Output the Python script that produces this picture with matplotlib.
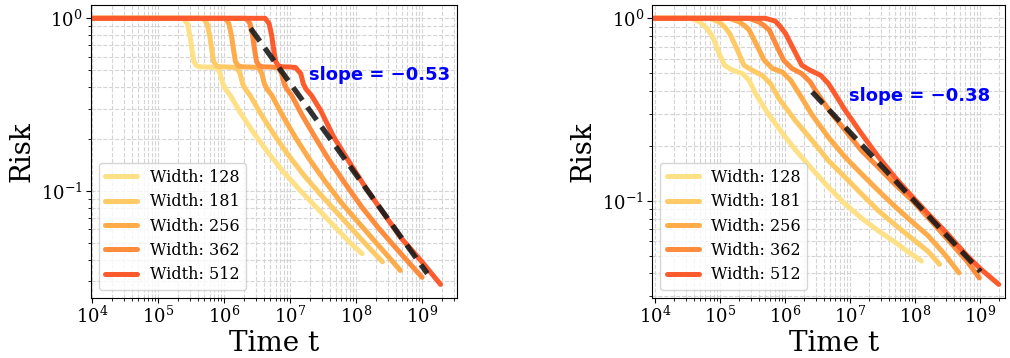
import numpy as np
import matplotlib
matplotlib.use("Agg")
import matplotlib.pyplot as plt

plt.rcParams['font.family'] = ['DejaVu Serif']
plt.rcParams['mathtext.fontset'] = 'dejavuserif'

widths = [128, 181, 256, 362, 512]
legend_labels = [f"Width: {w}" for w in widths]

# ---------- Left panel data (log10 t, log10 risk) ----------
left_lt_128 = [3.9, 5.38, 5.44, 5.48, 5.51, 5.54, 5.58, 5.64, 5.75, 5.89, 5.94, 5.98, 6.02, 6.09, 6.25, 6.45, 6.65, 6.90, 7.16, 7.41, 7.66, 7.91, 8.09]
left_lr_128 = [0, 0, -0.03, -0.10, -0.18, -0.25, -0.275, -0.281, -0.282, -0.285, -0.32, -0.38, -0.41, -0.445, -0.55, -0.665, -0.77, -0.89, -1.0, -1.10, -1.20, -1.30, -1.363]
left_lt_181 = [3.9, 5.68, 5.74, 5.78, 5.81, 5.84, 5.88, 5.94, 6.05, 6.19, 6.24, 6.28, 6.32, 6.39, 6.55, 6.75, 6.95, 7.2, 7.46, 7.71, 7.96, 8.2, 8.40]
left_lr_181 = [0, 0, -0.03, -0.10, -0.18, -0.25, -0.275, -0.281, -0.282, -0.285, -0.32, -0.38, -0.41, -0.445, -0.55, -0.67, -0.78, -0.905, -1.02, -1.125, -1.23, -1.33, -1.41]
left_lt_256 = [3.9, 6.01, 6.07, 6.11, 6.14, 6.17, 6.21, 6.27, 6.38, 6.52, 6.57, 6.61, 6.65, 6.72, 6.88, 7.08, 7.28, 7.53, 7.78, 8.03, 8.28, 8.5, 8.67]
left_lr_256 = [0, 0, -0.03, -0.10, -0.18, -0.25, -0.275, -0.281, -0.282, -0.285, -0.32, -0.38, -0.41, -0.445, -0.56, -0.69, -0.81, -0.945, -1.07, -1.18, -1.29, -1.385, -1.46]
left_lt_362 = [3.9, 6.33, 6.39, 6.43, 6.46, 6.49, 6.53, 6.59, 6.70, 6.82, 6.87, 6.91, 6.95, 7.02, 7.18, 7.38, 7.58, 7.83, 8.08, 8.33, 8.58, 8.8, 9.0]
left_lr_362 = [0, 0, -0.03, -0.10, -0.18, -0.25, -0.275, -0.281, -0.282, -0.285, -0.32, -0.38, -0.41, -0.445, -0.56, -0.69, -0.815, -0.955, -1.09, -1.21, -1.32, -1.415, -1.50]
left_lt_512 = [3.9, 6.62, 6.68, 6.72, 6.75, 6.78, 6.82, 6.88, 7.0, 7.08, 7.16, 7.2, 7.24, 7.32, 7.46, 7.66, 7.91, 8.17, 8.42, 8.67, 8.98, 9.28]
left_lr_512 = [0, 0, -0.03, -0.10, -0.18, -0.25, -0.275, -0.281, -0.282, -0.285, -0.32, -0.38, -0.41, -0.445, -0.532, -0.687, -0.841, -0.996, -1.131, -1.267, -1.402, -1.541]

# ---------- Right panel data (log10 t, log10 risk) ----------
right_lt_128 = [3.9, 4.55, 4.69, 4.80, 4.89, 4.99, 5.07, 5.20, 5.35, 5.45, 5.55, 5.71, 5.91, 6.16, 6.42, 6.67, 6.93, 7.18, 7.44, 7.69, 7.90, 8.10]
right_lr_128 = [0, 0, -0.019, -0.055, -0.101, -0.193, -0.257, -0.285, -0.303, -0.340, -0.413, -0.505, -0.605, -0.72, -0.826, -0.925, -1.018, -1.095, -1.165, -1.225, -1.28, -1.33]
right_lt_181 = [3.9, 4.85, 4.99, 5.08, 5.15, 5.27, 5.37, 5.50, 5.65, 5.78, 5.91, 6.16, 6.42, 6.67, 6.93, 7.18, 7.44, 7.69, 7.94, 8.20, 8.38]
right_lr_181 = [0, 0, -0.02, -0.05, -0.083, -0.174, -0.257, -0.285, -0.312, -0.358, -0.44, -0.56, -0.67, -0.78, -0.872, -0.963, -1.055, -1.13, -1.202, -1.276, -1.348]
right_lt_256 = [3.9, 5.15, 5.30, 5.38, 5.45, 5.58, 5.68, 5.81, 5.96, 6.09, 6.22, 6.42, 6.67, 6.93, 7.18, 7.44, 7.69, 7.94, 8.2, 8.45, 8.68]
right_lr_256 = [0, 0, -0.02, -0.04, -0.064, -0.156, -0.229, -0.275, -0.294, -0.340, -0.413, -0.53, -0.652, -0.762, -0.853, -0.945, -1.03, -1.11, -1.19, -1.29, -1.395]
right_lt_362 = [3.9, 5.45, 5.60, 5.68, 5.76, 5.88, 5.98, 6.11, 6.26, 6.39, 6.52, 6.72, 6.93, 7.18, 7.44, 7.69, 7.94, 8.2, 8.5, 8.8, 8.99]
right_lr_362 = [0, 0, -0.02, -0.04, -0.064, -0.156, -0.229, -0.275, -0.303, -0.349, -0.422, -0.523, -0.615, -0.725, -0.817, -0.908, -0.991, -1.09, -1.21, -1.33, -1.422]
right_lt_512 = [3.9, 5.7, 5.85, 5.91, 6.01, 6.14, 6.26, 6.39, 6.55, 6.67, 6.80, 6.93, 7.18, 7.44, 7.69, 7.94, 8.2, 8.5, 8.8, 9.0, 9.29]
right_lr_512 = [0, 0, -0.015, -0.037, -0.083, -0.174, -0.257, -0.285, -0.312, -0.358, -0.431, -0.505, -0.633, -0.76, -0.87, -0.97, -1.07, -1.18, -1.30, -1.37, -1.458]

# ---------- power-law fits ----------
left_slope = -0.53
left_fit_logc = 3.334
left_fit_range = [6.40, 9.08]
right_slope = -0.38
right_fit_logc = 2.036
right_fit_range = [6.42, 9.01]

left_series = [(left_lt_128, left_lr_128), (left_lt_181, left_lr_181), (left_lt_256, left_lr_256),
               (left_lt_362, left_lr_362), (left_lt_512, left_lr_512)]
right_series = [(right_lt_128, right_lr_128), (right_lt_181, right_lr_181), (right_lt_256, right_lr_256),
                (right_lt_362, right_lr_362), (right_lt_512, right_lr_512)]

colors = plt.cm.YlOrRd(np.linspace(0.2, 0.6, 5))

fig = plt.figure(figsize=(10.1, 3.58), dpi=100)
ax1 = fig.add_axes([0.0901, 0.1684, 0.3624, 0.8176])
ax2 = fig.add_axes([0.6458, 0.1684, 0.3495, 0.8176])


def draw(ax, series, slope, logc, frange, xlim, text_xy, xlabel_x):
    for (lt, lr), c, lab in zip(series, colors, legend_labels):
        ax.plot(np.power(10.0, lt), np.power(10.0, lr), color=c, lw=3.6,
                solid_capstyle='round', solid_joinstyle='round', label=lab)
    tfit = np.power(10.0, np.array(frange))
    ax.plot(tfit, 10 ** logc * tfit ** slope, color='#1a1a1a', alpha=0.9, lw=3.8,
            linestyle=(0, (3, 1.6)))
    ax.set_xscale('log')
    ax.set_yscale('log')
    ax.set_xlim(10 ** xlim[0], 10 ** xlim[1])
    ax.grid(True, which='both', ls='--', color='#d4d4d4', lw=0.8)
    ax.set_axisbelow(True)
    ax.set_xlabel('Time t', fontsize=20)
    ax.xaxis.set_label_coords(xlabel_x, -0.112)
    ax.set_ylabel('Risk', fontsize=20)
    ax.tick_params(axis='both', which='major', labelsize=13, pad=2.5)
    ax.text(10 ** text_xy[0], 10 ** text_xy[1], f"slope = {slope:.2f}".replace('-', '\u2212'),
            color='blue', fontsize=13, fontweight='bold', family='DejaVu Sans', va='center')
    ax.legend(loc='lower left', fontsize=11.5, handlelength=2.0, framealpha=0.8,
              labelspacing=0.46, borderaxespad=0.5)


draw(ax1, left_series, left_slope, left_fit_logc, left_fit_range, (3.98, 9.53), (7.29, -0.329), 0.5)
draw(ax2, right_series, right_slope, right_fit_logc, right_fit_range, (3.96, 9.39), (6.99, -0.428), 0.516)

fig.savefig('out.png', dpi=100)
